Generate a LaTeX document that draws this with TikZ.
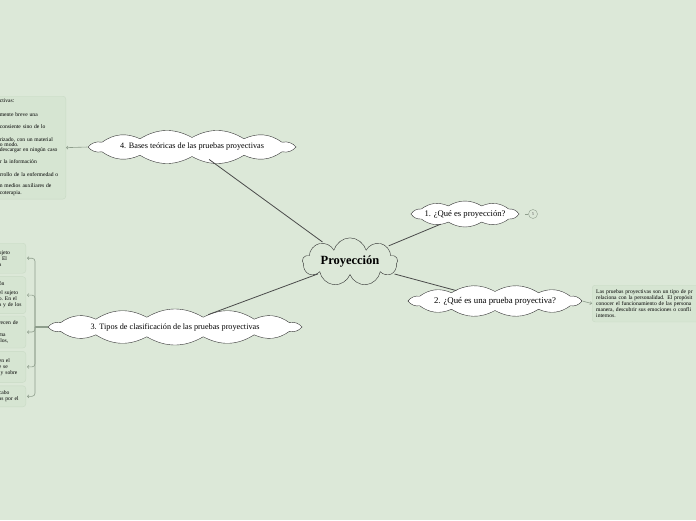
\documentclass[tikz,border=0pt]{standalone}
\usepackage{fontspec}
\setmainfont{Liberation Serif}
\usepackage{xcolor}
\usepackage{tikz}
\usetikzlibrary{arrows.meta,positioning,shapes.symbols,shapes.geometric}

\definecolor{bgmap}{HTML}{DCE8D8}
\definecolor{leaffill}{HTML}{D6E5D2}
\definecolor{leafline}{HTML}{C9DAC5}
\definecolor{linkgray}{HTML}{4A4A4A}
\definecolor{twiggray}{HTML}{8E9E8C}

% scalloped outline round a topic: centre x, centre y, half width, half height, puffs
\newcommand\cloudrim[5]{%
  \draw[rim] (#1+#3,#2)
    \foreach \i [evaluate=\i as \t using \i*360/#5] in {1,...,#5}
      {to[bend left=30] ({#1+#3*cos(\t)},{#2+#4*sin(\t)})} -- cycle;}

\begin{document}
\begin{tikzpicture}[
  x=1pt,y=-1pt,
  central/.style={cloud,cloud puffs=9,cloud ignores aspect,draw=black!80,fill=bgmap,thin,minimum width=95,minimum height=45,font=\fontsize{12.5}{14}\selectfont\bfseries},
  rim/.style={draw=black!80,fill=white,thin},
  topic/.style={ellipse,inner sep=0pt,font=\fontsize{8.2}{10}\selectfont},
  leaf/.style={rectangle,rounded corners=3pt,draw=leafline,fill=leaffill,align=left,inner sep=3pt,font=\fontsize{5.6}{6}\selectfont},
  link/.style={draw=linkgray,line width=0.8pt,shorten <=2pt,shorten >=4pt},
  twig/.style={draw=twiggray,line width=0.6pt,-{Straight Barb[length=1.5pt,width=3pt]}}
]
\useasboundingbox (0,0) rectangle (696,520);
\fill[bgmap] (0,0) rectangle (696,520);

% outlines of the four topics
\cloudrim{465}{214}{54}{8.5}{10}
\cloudrim{495}{301}{87}{9.5}{12}
\cloudrim{175}{327}{127}{10}{14}
\cloudrim{192}{147}{104}{9.5}{12}

% central idea and main topics
\node[central] (proj) at (350,262) {Proyección};
\node[topic,minimum width=108,minimum height=18,font=\fontsize{8.6}{10}\selectfont] (q1) at (465,214) {1. ¿Qué es proyección?};
\node[topic,minimum width=174,minimum height=20,font=\fontsize{8.8}{10}\selectfont] (q2) at (495,301) {2. ¿Qué es una prueba proyectiva?};
\node[topic,minimum width=254,minimum height=22] (q3) at (175,327) {3. Tipos de clasificación de las pruebas proyectivas};
\node[topic,minimum width=208,minimum height=20] (q4) at (192,147) {4. Bases teóricas de las pruebas proyectivas};
\node[circle,draw=twiggray,inner sep=0pt,minimum size=9pt,text=black!60,font=\fontsize{4.5}{5}\selectfont] (count) at (533,214) {5};

% detail boxes
\node[leaf,text width=63,anchor=north east] (bases) at (66,96) {%
ctivas:\\[8pt]
mente breve una\\[6pt]
consiente sino de lo\\[7pt]
rizado, con un material\\[-1pt]
o modo.\\[-1pt]
descargar en ningún caso\\[6pt]
r la información\\[7pt]
rrollo de la enfermedad o\\[5pt]
n medios auxiliares de\\[1pt]
coterapia.};
\node[leaf,text width=118,anchor=north west,inner sep=4pt,font=\fontsize{5.6}{6.2}\selectfont] (defn) at (592,285) {%
Las pruebas proyectivas son un tipo de pr\\
relaciona con la personalidad. El propósit\\
conocer el funcionamiento de las persona\\
manera, descubrir sus emociones o confli\\
internos.};

\node[leaf,text width=24,minimum height=30,anchor=north east] (t1) at (26,243) {ujeto\\.~El\\a};
\node[leaf,text width=24,minimum height=37,below=3pt of t1] (t2) {ón\\[3pt]el~sujeto\\o.~En~el\\a~y~de~los};
\node[leaf,text width=24,minimum height=32,below=2pt of t2] (t3) {recen~de\\,\\ma\\llos,};
\node[leaf,text width=24,minimum height=31,below=3pt of t3] (t4) {en~el\\e~se\\\ y~sobre};
\node[leaf,text width=24,minimum height=21,below=3pt of t4] (t5) {cabo\\as~por~el};

% links from the centre
\draw[link] (proj) -- (q1);
\draw[link] (proj) -- (q2);
\draw[link] (proj) -- (q3);
\draw[link] (proj) -- (q4);

% links to details
\draw[draw=twiggray,line width=0.6pt,shorten <=3pt] (q1) -- (count);
\draw[twig,shorten <=1pt] (q4.west) -- (bases.east);
\draw[twig,shorten <=1pt] (q2.east) -- (defn.west);
\coordinate (fork) at (35,327);
\draw[draw=twiggray,line width=1.6pt] (q3.west) -- (fork);
\foreach \t in {t1,t2,t3,t4,t5}
  \draw[twig,rounded corners=3pt,shorten >=1pt] (fork) |- (\t.east);
\end{tikzpicture}
\end{document}
